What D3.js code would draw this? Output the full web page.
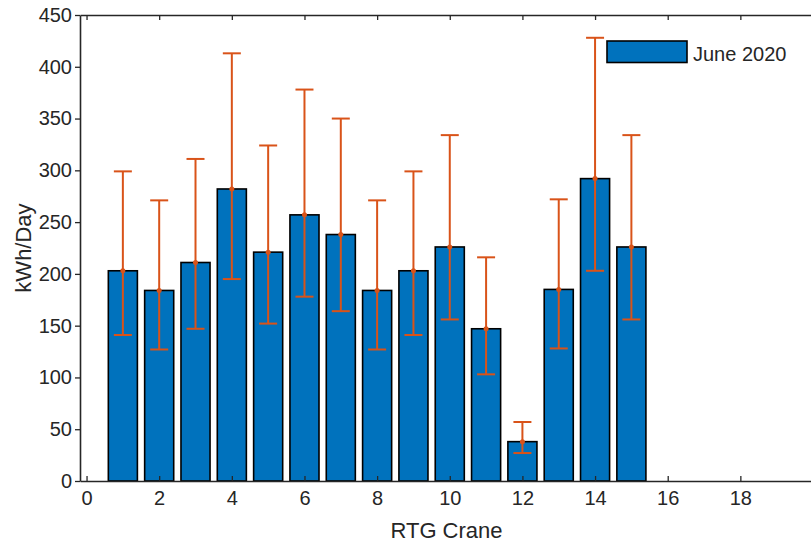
<!DOCTYPE html>
<html>
<head>
<meta charset="utf-8">
<script src="https://cdn.jsdelivr.net/npm/d3@7"></script>
<style>
  html, body { margin: 0; padding: 0; background: #fff; }
  svg { display: block; }
  text { font-family: "Liberation Sans", Arial, Helvetica, sans-serif; fill: #262626; }
</style>
</head>
<body>
<script>
const cranes = [1, 2, 3, 4, 5, 6, 7, 8, 9, 10, 11, 12, 13, 14, 15];
const meanKWh = [203, 184, 211, 282, 221, 257, 238, 184, 203, 226, 147, 38, 185, 292, 226];
const upperKWh = [299, 271, 311, 413, 324, 378, 350, 271, 299, 334, 216, 57, 272, 428, 334];
const lowerKWh = [141, 127, 147, 195, 152, 178, 164, 127, 141, 156, 103, 27, 128, 203, 156];
const xTicks = [0, 2, 4, 6, 8, 10, 12, 14, 16, 18];
const yTicks = [0, 50, 100, 150, 200, 250, 300, 350, 400, 450];
const seriesName = "June 2020";

const W = 811, H = 543;
const mLeft = 80, mRight = 813, mTop = 15, mBottom = 481;
const barColor = "#0072BD", errColor = "#D95319", axisColor = "#262626";

const svg = d3.select("body").append("svg").attr("width", W).attr("height", H);

const x = d3.scaleLinear().domain([-0.18, 20]).range([mLeft, mRight]);
const y = d3.scaleLinear().domain([0, 450]).range([mBottom, mTop]);

const data = cranes.map((c, i) => ({ c, m: meanKWh[i], hi: upperKWh[i], lo: lowerKWh[i] }));
const bw = x(0.8) - x(0);

// bars
svg.append("g").selectAll("rect").data(data).join("rect")
  .attr("x", d => x(d.c - 0.4))
  .attr("y", d => y(d.m))
  .attr("width", bw)
  .attr("height", d => y(0) - y(d.m))
  .attr("fill", barColor)
  .attr("stroke", "#000")
  .attr("stroke-width", 1.6);

// error bars
const eg = svg.append("g").attr("stroke", errColor).attr("stroke-width", 2).attr("fill", "none");
const capW = 9;
data.forEach(d => {
  eg.append("line").attr("x1", x(d.c)).attr("x2", x(d.c)).attr("y1", y(d.hi)).attr("y2", y(d.lo));
  eg.append("line").attr("x1", x(d.c) - capW).attr("x2", x(d.c) + capW).attr("y1", y(d.hi)).attr("y2", y(d.hi));
  eg.append("line").attr("x1", x(d.c) - capW).attr("x2", x(d.c) + capW).attr("y1", y(d.lo)).attr("y2", y(d.lo));
});
svg.append("g").selectAll("circle").data(data).join("circle")
  .attr("cx", d => x(d.c)).attr("cy", d => y(d.m)).attr("r", 2.5).attr("fill", errColor);

// axes
const fontSize = 20;
const xAxisB = d3.axisBottom(x).tickValues(xTicks).tickSize(-5).tickPadding(10).tickSizeOuter(0);
const gx = svg.append("g").attr("transform", `translate(0,${mBottom})`).call(xAxisB);
const xAxisT = d3.axisTop(x).tickValues(xTicks).tickSize(-5).tickFormat("").tickSizeOuter(0);
const gxt = svg.append("g").attr("transform", `translate(0,${mTop})`).call(xAxisT);
const yAxisL = d3.axisLeft(y).tickValues(yTicks).tickSize(5).tickPadding(3).tickSizeOuter(0);
const gy = svg.append("g").attr("transform", `translate(${mLeft},0)`).call(yAxisL);

[gx, gxt, gy].forEach(g => {
  g.select(".domain").attr("stroke", axisColor).attr("stroke-width", 1.6);
  g.selectAll(".tick line").attr("stroke", axisColor).attr("stroke-width", 1.3);
  g.selectAll(".tick text").attr("font-size", fontSize).attr("fill", axisColor)
    .attr("font-family", "Liberation Sans, Arial, sans-serif");
});
gx.selectAll(".tick text").attr("dy", "0.71em");

// axis labels
svg.append("text").attr("x", (mLeft + mRight) / 2).attr("y", 538)
  .attr("text-anchor", "middle").attr("font-size", 22).text("RTG Crane");
svg.append("text").attr("transform", `translate(31,${(mTop + mBottom) / 2}) rotate(-90)`)
  .attr("text-anchor", "middle").attr("font-size", 22).text("kWh/Day");

// legend
const lg = svg.append("g");
lg.append("rect").attr("x", 607).attr("y", 41).attr("width", 80).attr("height", 21.5)
  .attr("fill", barColor).attr("stroke", "#000").attr("stroke-width", 1.6);
lg.append("text").attr("x", 693).attr("y", 60.5).attr("font-size", 20).text(seriesName);
</script>
</body>
</html>
